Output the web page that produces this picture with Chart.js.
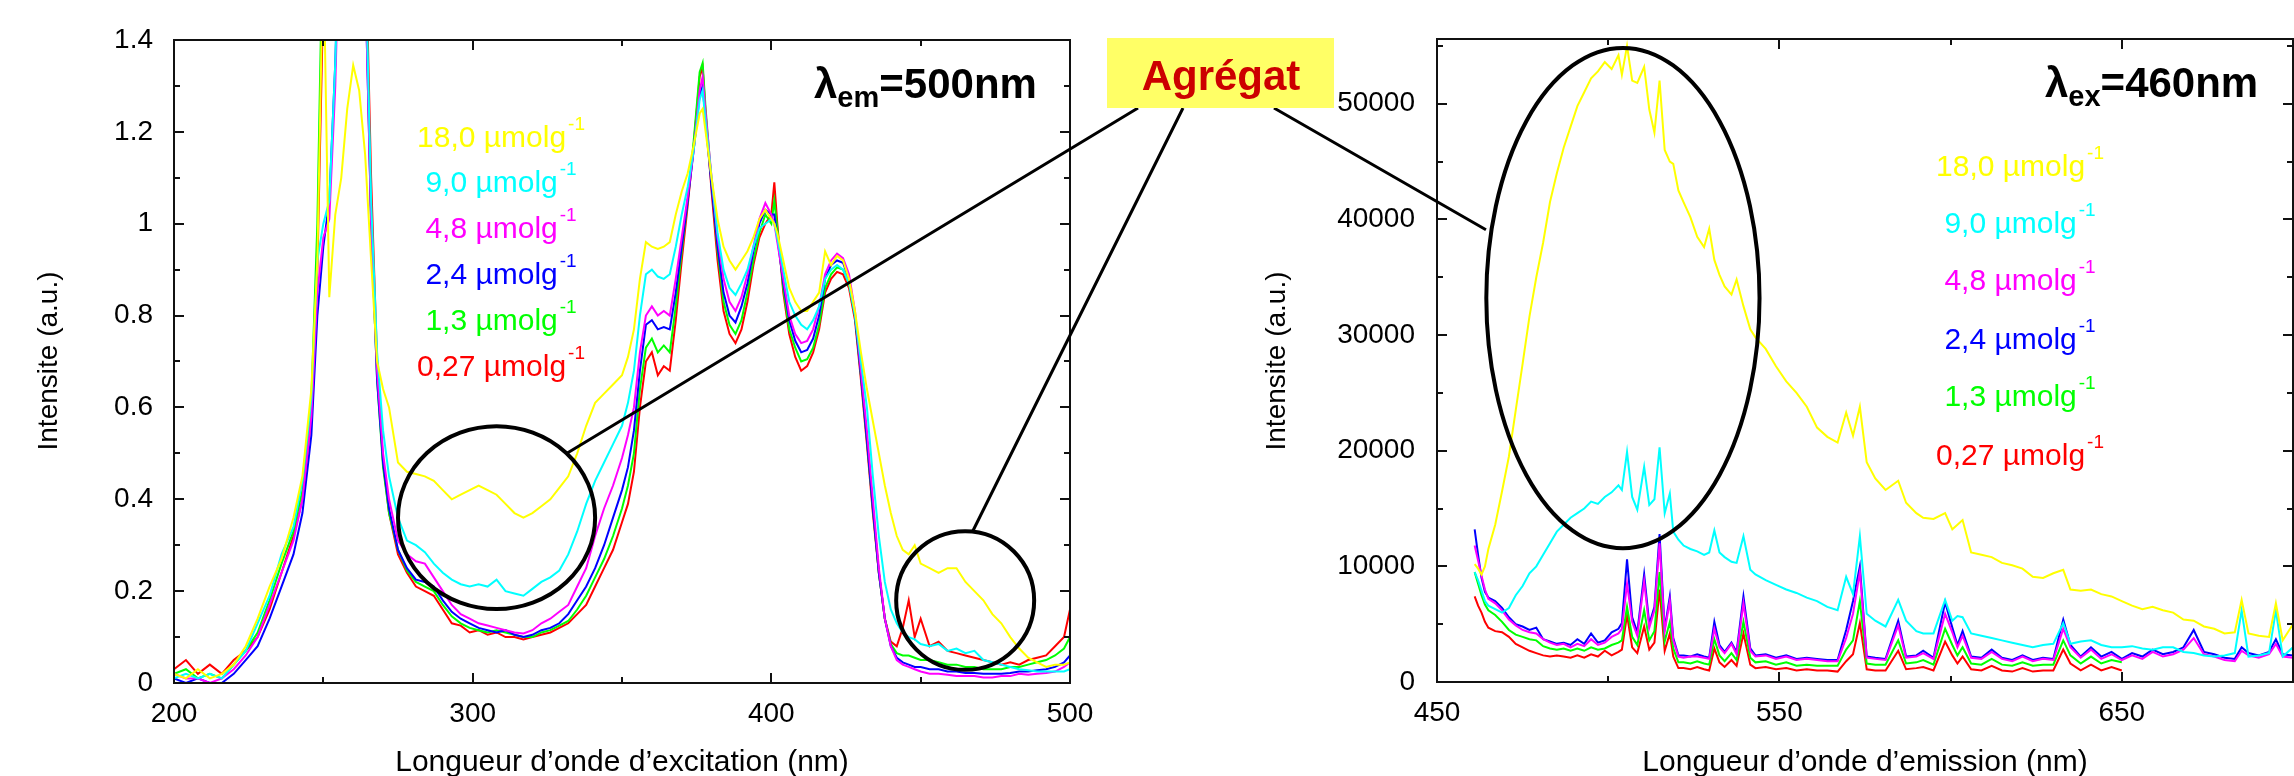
<!DOCTYPE html>
<html><head><meta charset="utf-8">
<script src="https://cdn.jsdelivr.net/npm/chart.js@4.4.1/dist/chart.umd.min.js"></script>
<style>
html,body{margin:0;padding:0;background:#fff;}
#wrap{position:relative;width:2294px;height:776px;overflow:hidden;background:#fff;}
#wrap canvas{position:absolute;left:0;top:0;}
</style></head><body>
<div id="wrap"><canvas id="c1" width="2294" height="776"></canvas><canvas id="c2" width="2294" height="776"></canvas></div>
<script>
// ---------- DATA ----------
const concLabels = ['18,0','9,0','4,8','2,4','1,3','0,27'];

// Excitation spectra (lambda_em = 500 nm)
const exWavelengths = [200,204,208,212,216,220,224,228,232,236,
 240,243,246,248,250,252,254,256,258,260,
 262,264,266,268,270,272,275,278,281,284,
 287,290,293,296,299,302,305,308,311,314,
 317,320,323,326,329,332,335,338,341,344,
 347,350,352,354,356,358,360,362,364,366,
 368,370,372,374,376,377,378,380,382,384,
 386,388,390,392,394,396,398,400,401,402,
 404,406,408,410,412,414,416,418,420,422,
 424,426,428,430,432,434,436,438,440,442,
 444,446,448,450,453,456,459,462,465,468,
 471,474,477,480,483,486,489,492,495,498,
 500];
const ex_18_0 = [0.02,0.01,0.03,0.01,0.02,0.04,0.08,0.14,0.21,0.27,
 0.36,0.45,0.64,0.92,1.60,0.84,1.02,1.10,1.25,1.345,
 1.29,1.15,0.92,0.70,0.64,0.60,0.48,0.46,0.455,0.45,
 0.44,0.42,0.40,0.41,0.42,0.43,0.42,0.41,0.39,0.37,
 0.36,0.37,0.385,0.40,0.425,0.45,0.50,0.56,0.61,0.63,
 0.65,0.67,0.71,0.77,0.88,0.96,0.95,0.945,0.95,0.96,
 1.02,1.07,1.11,1.17,1.24,1.25,1.20,1.10,1.01,0.95,
 0.92,0.90,0.92,0.94,0.97,1.01,1.03,1.01,1.00,0.98,
 0.92,0.86,0.83,0.81,0.81,0.83,0.85,0.94,0.91,0.93,
 0.92,0.88,0.81,0.72,0.64,0.57,0.50,0.43,0.37,0.32,
 0.29,0.28,0.30,0.26,0.25,0.24,0.25,0.25,0.22,0.20,
 0.18,0.15,0.13,0.10,0.075,0.055,0.045,0.035,0.04,0.04,
 0.045];
const ex_9_0 = [0.01,0.02,0.01,0.02,0.01,0.04,0.07,0.13,0.19,0.28,
 0.34,0.44,0.62,0.92,1.00,1.05,1.35,1.80,2.0,2.0,
 2.0,1.60,1.05,0.72,0.55,0.45,0.36,0.31,0.30,0.285,
 0.26,0.24,0.225,0.215,0.21,0.215,0.21,0.225,0.20,0.195,
 0.19,0.205,0.22,0.23,0.245,0.28,0.33,0.39,0.44,0.48,
 0.52,0.56,0.61,0.68,0.80,0.89,0.90,0.885,0.88,0.89,
 0.95,1.02,1.08,1.16,1.27,1.29,1.22,1.10,0.98,0.90,
 0.86,0.845,0.87,0.90,0.95,0.99,1.00,1.01,1.00,0.97,
 0.90,0.83,0.80,0.78,0.77,0.79,0.82,0.88,0.90,0.91,
 0.90,0.87,0.80,0.70,0.60,0.45,0.32,0.22,0.16,0.13,
 0.11,0.10,0.095,0.085,0.08,0.085,0.07,0.075,0.065,0.07,
 0.05,0.045,0.04,0.035,0.03,0.028,0.025,0.025,0.025,0.025,
 0.03];
const ex_4_8 = [0.02,0.01,0.01,0.00,0.01,0.03,0.06,0.10,0.17,0.24,
 0.31,0.40,0.58,0.85,0.97,1.01,1.30,1.80,2.0,2.0,
 2.0,1.55,1.00,0.68,0.50,0.40,0.31,0.28,0.265,0.26,
 0.23,0.20,0.17,0.15,0.14,0.13,0.125,0.12,0.115,0.11,
 0.108,0.115,0.13,0.14,0.155,0.17,0.21,0.25,0.32,0.38,
 0.43,0.49,0.54,0.60,0.72,0.80,0.82,0.80,0.81,0.80,
 0.88,0.97,1.06,1.16,1.29,1.32,1.24,1.10,0.97,0.88,
 0.83,0.81,0.84,0.89,0.95,1.01,1.045,1.02,1.00,0.96,
 0.88,0.80,0.76,0.74,0.745,0.77,0.82,0.89,0.92,0.935,
 0.925,0.89,0.81,0.68,0.55,0.40,0.25,0.14,0.08,0.05,
 0.04,0.035,0.03,0.025,0.02,0.02,0.018,0.015,0.015,0.015,
 0.012,0.012,0.015,0.015,0.02,0.018,0.02,0.022,0.025,0.035,
 0.045];
const ex_2_4 = [0.01,0.00,0.01,0.00,0.00,0.02,0.05,0.08,0.14,0.21,
 0.28,0.37,0.54,0.80,0.95,1.05,1.35,1.80,2.0,2.0,
 2.0,1.55,1.00,0.66,0.48,0.38,0.29,0.25,0.225,0.22,
 0.21,0.18,0.155,0.14,0.13,0.12,0.115,0.11,0.115,0.105,
 0.10,0.105,0.115,0.12,0.13,0.15,0.18,0.21,0.25,0.30,
 0.36,0.42,0.47,0.55,0.68,0.78,0.79,0.77,0.775,0.77,
 0.85,0.95,1.05,1.16,1.28,1.30,1.22,1.08,0.95,0.85,
 0.80,0.785,0.82,0.87,0.94,1.00,1.03,1.02,1.02,0.97,
 0.87,0.79,0.745,0.72,0.725,0.75,0.80,0.88,0.91,0.92,
 0.915,0.88,0.80,0.67,0.53,0.38,0.24,0.14,0.08,0.055,
 0.045,0.04,0.035,0.035,0.03,0.03,0.025,0.025,0.022,0.022,
 0.02,0.02,0.02,0.022,0.025,0.025,0.028,0.03,0.035,0.045,
 0.06];
const ex_1_3 = [0.02,0.03,0.01,0.02,0.01,0.04,0.07,0.11,0.18,0.26,
 0.33,0.42,0.62,1.00,1.70,2.0,2.0,2.0,2.0,2.0,
 2.0,1.60,1.00,0.66,0.47,0.37,0.29,0.245,0.22,0.21,
 0.20,0.17,0.145,0.13,0.12,0.115,0.11,0.115,0.11,0.105,
 0.10,0.10,0.11,0.115,0.125,0.135,0.16,0.19,0.23,0.27,
 0.32,0.38,0.43,0.50,0.64,0.73,0.75,0.72,0.735,0.72,
 0.82,0.94,1.05,1.18,1.33,1.35,1.25,1.09,0.94,0.83,
 0.78,0.76,0.79,0.85,0.92,0.98,1.02,1.00,1.05,0.99,
 0.86,0.77,0.73,0.70,0.705,0.73,0.78,0.86,0.89,0.905,
 0.90,0.87,0.80,0.67,0.53,0.38,0.24,0.14,0.085,0.065,
 0.06,0.06,0.055,0.05,0.05,0.045,0.04,0.04,0.035,0.035,
 0.03,0.03,0.03,0.035,0.035,0.04,0.045,0.05,0.06,0.075,
 0.10];
const ex_0_27 = [0.03,0.05,0.02,0.04,0.02,0.05,0.07,0.10,0.16,0.24,
 0.32,0.40,0.58,0.90,1.50,1.80,2.0,2.0,2.0,2.0,
 2.0,1.65,1.10,0.70,0.48,0.37,0.28,0.24,0.21,0.20,
 0.19,0.16,0.13,0.125,0.11,0.115,0.105,0.11,0.10,0.10,
 0.095,0.10,0.105,0.11,0.12,0.13,0.15,0.17,0.21,0.25,
 0.29,0.35,0.39,0.46,0.60,0.70,0.72,0.67,0.69,0.68,
 0.79,0.92,1.04,1.17,1.32,1.34,1.24,1.07,0.92,0.81,
 0.76,0.74,0.77,0.83,0.91,0.97,1.00,1.02,1.09,1.00,
 0.85,0.76,0.71,0.68,0.69,0.72,0.77,0.85,0.88,0.895,
 0.89,0.86,0.79,0.66,0.52,0.37,0.24,0.14,0.09,0.08,
 0.12,0.18,0.10,0.14,0.08,0.09,0.07,0.065,0.06,0.055,
 0.05,0.045,0.04,0.045,0.04,0.05,0.055,0.06,0.08,0.10,
 0.16];

// Emission spectra (lambda_ex = 460 nm)
const emWavelengths = [461,462,463,464,465,467,469,471,473,475,
 477,479,481,483,485,487,489,491,493,495,
 497,499,501,503,504,505.5,507,508.5,510.5,512,
 513.5,515,516.5,518,519,520.5,522,524,526,528,
 529.5,531,532.5,534,536,537.5,539.5,541.5,543,546,
 549,552,555,558,561,564,567,569.5,571.5,573.5,
 575.5,578,581,584.7,587,590,592,595,598.4,600.5,
 602,603.5,606,609,612,615,618,621,624,627,
 630,632.9,635,638,641,644,647,650,653,656,
 659,662,665,668,671,674,677,680,683,685,
 687,690,693,695,697,700];
const em_18_0 = [10200,9800,9300,10000,11500,13600,16500,19500,23500,27500,
 31600,35000,38000,41500,44000,46200,48000,49800,51000,52200,
 52800,53600,53000,54200,52500,55000,52000,51800,53200,49500,
 47500,52000,46000,45000,44800,42500,41500,40200,38500,37600,
 39200,36500,35200,34200,33500,34800,32500,30500,29800,28800,
 27300,26000,25000,23800,22000,21200,20700,23300,21300,23800,
 19000,17600,16600,17400,15500,14600,14200,14100,14600,13200,
 13600,14000,11200,11000,10800,10300,10100,9800,9100,9000,
 9400,9700,8000,7900,8000,7600,7400,7000,6600,6300,
 6500,6200,6000,5400,5300,4800,4600,4200,4300,7100,
 4200,4000,3900,6800,3600,5000];
const em_9_0 = [9500,8800,7900,7000,6600,6300,6000,6400,7500,8300,
 9400,10000,11000,12000,13000,13600,14200,14600,15000,15600,
 15400,16000,16400,17000,16600,19900,16000,14900,18600,15300,
 15800,20300,14600,16300,13000,12300,11800,11500,11300,11000,
 11200,13100,11200,10800,10400,10300,12600,9700,9300,8800,
 8400,8000,7700,7300,7000,6500,6200,9100,7600,12600,
 5900,5300,4800,7100,5300,4400,4200,4200,7100,5300,
 5700,5600,4200,4000,3800,3600,3400,3200,3000,3200,
 3300,5100,3300,3500,3600,3200,3000,3000,3100,2900,
 2800,3000,3000,2600,2500,2300,2200,2300,2500,6200,
 2200,2300,2500,6200,2200,3000];
const em_4_8 = [11800,10500,9200,8000,7200,6800,6200,5400,4900,4500,
 4300,4200,3700,3400,3200,3300,3000,3300,3100,3700,
 3200,3400,3900,4200,4600,8500,5200,4000,8700,4700,
 6200,12000,4400,7000,3600,2200,2100,2200,2200,2100,
 2000,4600,3000,2500,3300,2400,6800,2700,2200,2300,
 2000,2200,1900,2000,1900,1800,1800,3800,5900,9500,
 2100,2000,1900,4900,2100,2200,2500,2000,5900,4300,
 3000,4000,2100,2000,2600,2000,1800,2200,1800,2000,
 1900,4600,3000,2100,2800,2000,2400,1900,2300,2000,
 2600,2200,2400,2800,3800,2400,2200,1900,1800,2700,
 2300,2100,2400,3300,2200,2100];
const em_2_4 = [13200,11000,9000,7800,7300,7000,6400,5600,5000,4800,
 4500,4700,3700,3500,3300,3400,3200,3700,3300,4200,
 3400,3600,4300,4600,5100,10600,5600,4300,9300,5000,
 6500,12800,4600,7400,3800,2300,2300,2200,2400,2200,
 2100,5200,3200,2600,3400,2600,7400,2900,2300,2400,
 2100,2300,2000,2100,2000,1900,1900,4500,7000,10000,
 2200,2100,2000,5300,2200,2300,2700,2100,6900,4700,
 3200,4400,2200,2100,2800,2100,1900,2300,1900,2100,
 2000,5400,3200,2200,3000,2200,2600,2000,2500,2200,
 2800,2400,2600,3000,4500,2600,2400,2100,2000,3000,
 2500,2300,2600,3700,2400,2300];
const em_1_3 = [9500,8500,7500,6700,6200,5800,5200,4500,4100,3900,
 3700,3600,3100,2900,2800,2900,2700,2900,2700,3000,
 2800,2900,3200,3400,3600,6500,3900,3200,6200,3600,
 4400,9500,3500,5200,2900,1700,1700,1600,1800,1600,
 1500,3700,2300,1800,2500,1900,5200,2100,1700,1800,
 1500,1700,1400,1500,1400,1400,1400,2800,3600,7000,
 1600,1500,1500,3600,1600,1700,1900,1500,4600,3200,
 2300,3000,1600,1500,2000,1500,1400,1700,1400,1500,
 1500,3600,2300,1600,2200,1600,1900,1700];
const em_0_27 = [7400,6600,6000,5200,4700,4400,4300,3900,3300,3000,
 2700,2500,2300,2200,2300,2200,2100,2300,2100,2400,
 2200,2700,2300,2600,2800,5800,3000,2500,4800,2800,
 3400,8000,2700,4200,2200,1200,1200,1100,1300,1100,
 1000,2900,1700,1300,1900,1400,4200,1500,1200,1300,
 1100,1200,1000,1100,1000,1000,900,1800,2400,5100,
 1100,1000,1000,2700,1100,1200,1300,1000,3500,2300,
 1600,2200,1100,1000,1400,1000,900,1200,900,1000,
 1000,2800,1600,1000,1500,1000,1300,1000];

// Tick labels
const exXTicks = [200,300,400,500];
const exYTicks = [0,0.2,0.4,0.6,0.8,1,1.2,1.4];
const emXTicks = [450,550,650];
const emYTicks = [0,10000,20000,30000,40000,50000];

// ---------- STYLE ----------
const FONT = "'Liberation Sans', Arial, Helvetica, sans-serif";
const seriesColors = ['#FFFF00','#00FFFF','#FF00FF','#0000FF','#00FF00','#FF0000'];
const W = 2294, H = 776;

function buildSets(xs, list) {
  return list.map((vals, i) => ({
    label: concLabels[i],
    data: vals.map((v, j) => ({x: xs[j], y: v})),
    borderColor: seriesColors[i], backgroundColor: seriesColors[i],
    borderWidth: 2, pointRadius: 0, tension: 0, fill: false
  }));
}

function frameTicks(o) {
  return {
    id: 'frameTicks',
    afterDatasetsDraw(chart) {
      const {ctx, chartArea: a} = chart;
      const xs = chart.scales.x, ys = chart.scales.y;
      ctx.save();
      ctx.strokeStyle = '#111'; ctx.lineWidth = 2;
      ctx.beginPath();
      for (let k = 0; o.xMin + k * o.xStep <= o.xMax + 1e-9; k++) {
        const v = o.xMin + k * o.xStep;
        const L = (k % 2 === 0) ? 10 : 6;
        const px = Math.round(xs.getPixelForValue(v));
        ctx.moveTo(px, a.bottom); ctx.lineTo(px, a.bottom - L);
        ctx.moveTo(px, a.top); ctx.lineTo(px, a.top + L);
      }
      for (let k = 0; o.yMin + k * o.yStep <= o.yMax + 1e-9; k++) {
        const v = o.yMin + k * o.yStep;
        const L = (k % 2 === 0) ? 10 : 6;
        const py = Math.round(ys.getPixelForValue(v));
        ctx.moveTo(a.left, py); ctx.lineTo(a.left + L, py);
        ctx.moveTo(a.right, py); ctx.lineTo(a.right - L, py);
      }
      ctx.stroke();
      ctx.strokeRect(a.left, a.top, a.right - a.left, a.bottom - a.top);
      ctx.restore();
    }
  };
}

function drawConc(ctx, label, cx, base, color) {
  const main = label + ' µmolg', sup = '-1';
  ctx.font = '30px ' + FONT; const w1 = ctx.measureText(main).width;
  ctx.font = '19px ' + FONT; const w2 = ctx.measureText(sup).width;
  const x0 = cx - (w1 + 2 + w2) / 2;
  ctx.fillStyle = color; ctx.textAlign = 'left'; ctx.textBaseline = 'alphabetic';
  ctx.font = '30px ' + FONT; ctx.fillText(main, x0, base);
  ctx.font = '19px ' + FONT; ctx.fillText(sup, x0 + w1 + 2, base - 17);
}

function drawLambda(ctx, sub, rest, x0, base) {
  ctx.fillStyle = '#000'; ctx.textAlign = 'left'; ctx.textBaseline = 'alphabetic';
  ctx.font = 'bold 42px ' + FONT; ctx.fillText('λ', x0, base);
  let x = x0 + ctx.measureText('λ').width;
  ctx.font = 'bold 29px ' + FONT; ctx.fillText(sub, x, base + 9);
  x += ctx.measureText(sub).width;
  ctx.font = 'bold 42px ' + FONT; ctx.fillText(rest, x, base);
}

function axisTitles(ctx, xTitle, xCenter, yCenterX) {
  ctx.fillStyle = '#000'; ctx.textAlign = 'center'; ctx.textBaseline = 'alphabetic';
  ctx.font = '30px ' + FONT; ctx.fillText(xTitle, xCenter, 771);
  ctx.save(); ctx.translate(yCenterX, 361); ctx.rotate(-Math.PI / 2);
  ctx.textBaseline = 'middle'; ctx.font = '28px ' + FONT;
  ctx.fillText('Intensite (a.u.)', 0, 0); ctx.restore();
}

function ellipseData(ctx, chart, cxv, cyv, rxv, ryv) {
  const xs = chart.scales.x, ys = chart.scales.y;
  const cx = xs.getPixelForValue(cxv), cy = ys.getPixelForValue(cyv);
  const rx = Math.abs(xs.getPixelForValue(cxv + rxv) - cx);
  const ry = Math.abs(ys.getPixelForValue(cyv + ryv) - cy);
  ctx.save(); ctx.strokeStyle = '#000'; ctx.lineWidth = 4;
  ctx.beginPath(); ctx.ellipse(cx, cy, rx, ry, 0, 0, Math.PI * 2); ctx.stroke(); ctx.restore();
}

const commonScale = (fontSize) => ({
  type: 'linear',
  grid: {display: false, drawTicks: false},
  border: {display: false},
  ticks: {color: '#000', font: {family: FONT, size: fontSize}, autoSkip: false, maxRotation: 0}
});

// ---------- LEFT CHART ----------
const leftAnno = {
  id: 'leftAnno',
  afterDraw(chart) {
    const ctx = chart.ctx;
    ellipseData(ctx, chart, 308, 0.360, 33.0, 0.199);
    ellipseData(ctx, chart, 464.9, 0.1796, 23.1, 0.151);
    const bases = [147, 192, 238, 284, 330, 376];
    concLabels.forEach((l, i) => drawConc(ctx, l, 501, bases[i], seriesColors[i]));
    drawLambda(ctx, 'em', '=500nm', 814, 98);
    axisTitles(ctx, 'Longueur d’onde d’excitation (nm)', 622, 49);
  }
};

const xL = commonScale(28);
Object.assign(xL, {min: 200, max: 500,
  afterBuildTicks: ax => { ax.ticks = exXTicks.map(v => ({value: v})); },
  afterFit: ax => { ax.height = H - 683; }});
xL.ticks.padding = 14; xL.ticks.callback = v => String(v);
const yL = commonScale(28);
Object.assign(yL, {min: 0, max: 1.4,
  afterBuildTicks: ax => { ax.ticks = exYTicks.map(v => ({value: v})); },
  afterFit: ax => { ax.width = 174; }});
yL.ticks.padding = 21; yL.ticks.callback = v => String(Math.round(v * 10) / 10);

const chart1 = new Chart(document.getElementById('c1'), {
  type: 'line',
  data: {datasets: buildSets(exWavelengths, [ex_18_0, ex_9_0, ex_4_8, ex_2_4, ex_1_3, ex_0_27])},
  options: {
    responsive: false, animation: false, devicePixelRatio: 1, events: [],
    parsing: false, normalized: true,
    layout: {padding: {left: 0, right: W - 1070, top: 40, bottom: 0}},
    plugins: {legend: {display: false}, tooltip: {enabled: false}},
    scales: {x: xL, y: yL}
  },
  plugins: [frameTicks({xMin: 200, xMax: 500, xStep: 50, yMin: 0, yMax: 1.4, yStep: 0.1}), leftAnno]
});

// ---------- RIGHT CHART ----------
const rightAnno = {
  id: 'rightAnno',
  afterDraw(chart) {
    const ctx = chart.ctx;
    ellipseData(ctx, chart, 504.3, 33200, 39.9, 21630);
    const bases = [176, 233, 290, 349, 406, 465];
    concLabels.forEach((l, i) => drawConc(ctx, l, 2020, bases[i], seriesColors[i]));
    drawLambda(ctx, 'ex', '=460nm', 2045, 97);
    axisTitles(ctx, 'Longueur d’onde d’emission (nm)', 1865, 1277);

    // connectors to "Agrégat"
    const lx = chart1.scales.x, ly = chart1.scales.y;
    const rx = chart.scales.x, ry = chart.scales.y;
    ctx.save(); ctx.strokeStyle = '#000'; ctx.lineWidth = 3; ctx.lineCap = 'butt';
    ctx.beginPath();
    ctx.moveTo(lx.getPixelForValue(331.7), ly.getPixelForValue(0.5008)); ctx.lineTo(1138, 108);
    ctx.moveTo(lx.getPixelForValue(467.3), ly.getPixelForValue(0.3288)); ctx.lineTo(1183, 108);
    ctx.moveTo(rx.getPixelForValue(464.3), ry.getPixelForValue(39100)); ctx.lineTo(1274, 108);
    ctx.stroke(); ctx.restore();

    ctx.save();
    ctx.fillStyle = '#FFFF66'; ctx.fillRect(1107, 38, 227, 70);
    ctx.fillStyle = '#CC0000'; ctx.font = 'bold 42px ' + FONT;
    ctx.textAlign = 'center'; ctx.textBaseline = 'alphabetic';
    ctx.fillText('Agrégat', 1221, 90);
    ctx.restore();
  }
};

const xR = commonScale(28);
Object.assign(xR, {min: 450, max: 700,
  afterBuildTicks: ax => { ax.ticks = emXTicks.map(v => ({value: v})); },
  afterFit: ax => { ax.height = H - 682; }});
xR.ticks.padding = 14; xR.ticks.callback = v => String(v);
const yR = commonScale(28);
Object.assign(yR, {min: 0, max: 55600,
  afterBuildTicks: ax => { ax.ticks = emYTicks.map(v => ({value: v})); },
  afterFit: ax => { ax.width = 1437; }});
yR.ticks.padding = 22; yR.ticks.callback = v => String(v);

const chart2 = new Chart(document.getElementById('c2'), {
  type: 'line',
  data: {datasets: buildSets(emWavelengths, [em_18_0, em_9_0, em_4_8, em_2_4, em_1_3, em_0_27])},
  options: {
    responsive: false, animation: false, devicePixelRatio: 1, events: [],
    parsing: false, normalized: true,
    layout: {padding: {left: 0, right: 1, top: 39, bottom: 0}},
    plugins: {legend: {display: false}, tooltip: {enabled: false}},
    scales: {x: xR, y: yR}
  },
  plugins: [frameTicks({xMin: 450, xMax: 700, xStep: 50, yMin: 0, yMax: 55000, yStep: 5000}), rightAnno]
});
</script>
</body></html>
